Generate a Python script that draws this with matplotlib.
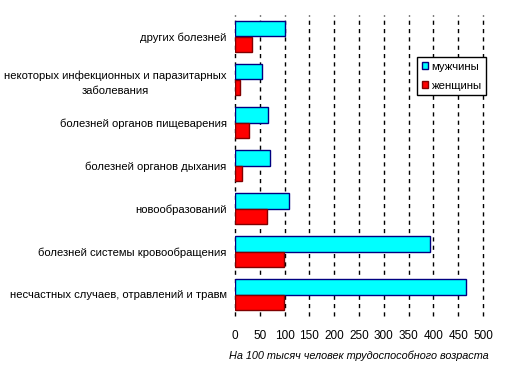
import numpy as np
import matplotlib
matplotlib.use("Agg")
import matplotlib.pyplot as plt
import matplotlib.patches as mpatches

plt.rcParams["font.family"] = ["Liberation Sans", "DejaVu Sans"]

# Категории сверху вниз
categories = [
    "других болезней",
    "некоторых инфекционных и паразитарных\nзаболевания",
    "болезней органов пищеварения",
    "болезней органов дыхания",
    "новообразований",
    "болезней системы кровообращения",
    "несчастных случаев, отравлений и травм",
]
men = [100, 55, 66, 71, 109, 394, 465]
women = [34, 11, 28, 15, 64, 98, 98]
xticks = list(range(0, 501, 50))

W, H = 514, 373
fig = plt.figure(figsize=(W / 100, H / 100), dpi=100)
ax = fig.add_axes([235 / W, 1 - 316 / H, (483 - 235) / W, (316 - 15) / H])

y = np.arange(len(categories))
bh = 0.35
ax.barh(y - bh / 2, men, height=bh, color="#00FFFF", edgecolor="#000080",
        lw=1.0, label="мужчины", zorder=3)
ax.barh(y + bh / 2, women, height=bh, color="#FF0000", edgecolor="#800000",
        lw=1.0, label="женщины", zorder=3)

ax.set_ylim(len(categories) - 0.5, -0.5)
ax.set_xlim(0, 500)
ax.set_yticks(y)
ax.set_yticklabels(categories, fontsize=8.1, ha="right", multialignment="center",
                   linespacing=1.6)
ax.tick_params(axis="y", length=0, pad=6)
ax.set_xticks(xticks)
ax.set_xticklabels([str(v) for v in xticks], fontsize=8.5)
ax.tick_params(axis="x", length=0, pad=10)

for v in xticks:
    ax.axvline(v, color="black", lw=1.0, ls=(0, (3, 3)), zorder=1, clip_on=False)
for s in ax.spines.values():
    s.set_visible(False)

ax.set_xlabel("На 100 тысяч человек трудоспособного возраста",
              fontsize=7.85, style="italic", labelpad=6)

handles = [mpatches.Patch(facecolor="#00FFFF", edgecolor="#000080", label="мужчины"),
           mpatches.Patch(facecolor="#FF0000", edgecolor="#800000", label="женщины")]
leg = fig.legend(handles=handles, loc="upper left",
                 bbox_to_anchor=(417 / W, 1 - 57 / H), fontsize=8.2,
                 frameon=True, fancybox=False, framealpha=1, edgecolor="black",
                 handlelength=0.55, handleheight=0.55, handletextpad=0.3,
                 labelspacing=0.8, borderpad=0.4, borderaxespad=0)
leg.get_frame().set_linewidth(1.0)

fig.savefig("out.png", dpi=100)
